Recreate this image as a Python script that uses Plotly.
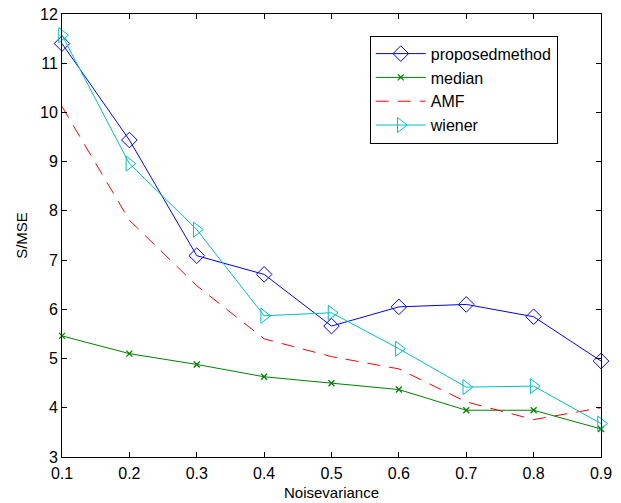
import plotly.graph_objects as go

noise = [0.1, 0.2, 0.3, 0.4, 0.5, 0.6, 0.7, 0.8, 0.9]
proposed = [11.40, 9.44, 7.09, 6.71, 5.66, 6.05, 6.10, 5.85, 4.95]
median = [5.46, 5.10, 4.88, 4.63, 4.50, 4.37, 3.95, 3.95, 3.57]
amf = [10.12, 7.81, 6.48, 5.40, 5.04, 4.79, 4.12, 3.76, 4.00]
wiener = [11.57, 8.96, 7.62, 5.87, 5.93, 5.20, 4.42, 4.44, 3.68]
x_ticks = [0.1, 0.2, 0.3, 0.4, 0.5, 0.6, 0.7, 0.8, 0.9]
y_ticks = [3, 4, 5, 6, 7, 8, 9, 10, 11, 12]

FONT = "Liberation Sans, Arial, sans-serif"

fig = go.Figure()
fig.add_trace(go.Scatter(x=noise, y=proposed, name="proposedmethod", mode="lines+markers",
                         cliponaxis=False,
                         line=dict(color="rgb(0,0,255)", width=1),
                         marker=dict(symbol="diamond-open", size=12, color="rgb(0,0,255)", line=dict(width=1))))
fig.add_trace(go.Scatter(x=noise, y=median, name="median", mode="lines+markers",
                         cliponaxis=False,
                         line=dict(color="rgb(0,128,0)", width=1),
                         marker=dict(symbol="x-thin-open", size=6, color="rgb(0,128,0)", line=dict(width=1.3, color="rgb(0,128,0)"))))
fig.add_trace(go.Scatter(x=noise, y=amf, name="AMF", mode="lines",
                         line=dict(color="rgb(255,0,0)", width=1, dash="13px,9px")))
fig.add_trace(go.Scatter(x=noise, y=wiener, name="wiener", mode="lines+markers",
                         cliponaxis=False,
                         line=dict(color="rgb(0,191,191)", width=1),
                         marker=dict(symbol="triangle-right-open", size=13, color="rgb(0,191,191)", line=dict(width=1))))

axis_common = dict(showline=True, linecolor="black", linewidth=1, mirror="ticks",
                   ticks="inside", ticklen=5, tickcolor="black", showgrid=False, zeroline=False,
                   automargin=False,
                   tickfont=dict(family=FONT, size=16, color="black"))

fig.update_layout(
    width=621, height=503,
    margin=dict(l=62, r=20, t=14, b=46),
    paper_bgcolor="white", plot_bgcolor="white",
    font=dict(family=FONT, size=16, color="black"),
    xaxis=dict(range=[0.1, 0.9], tickvals=x_ticks, ticktext=[str(v) for v in x_ticks],
               ticklabelstandoff=2,
               title=dict(text="Noisevariance", font=dict(family=FONT, size=15), standoff=6),
               **axis_common),
    yaxis=dict(range=[3, 12], tickvals=y_ticks,
               title=dict(text="S/MSE", font=dict(family=FONT, size=15), standoff=8),
               **axis_common),
    legend=dict(x=0.571, y=0.951, xanchor="left", yanchor="top",
                bordercolor="black", borderwidth=1, bgcolor="white",
                font=dict(family=FONT, size=16, color="black"),
                itemwidth=50, tracegroupgap=0),
    showlegend=True,
)

fig.write_html("out.html", config={"displayModeBar": False},
               post_script="document.body.style.margin='0';")
